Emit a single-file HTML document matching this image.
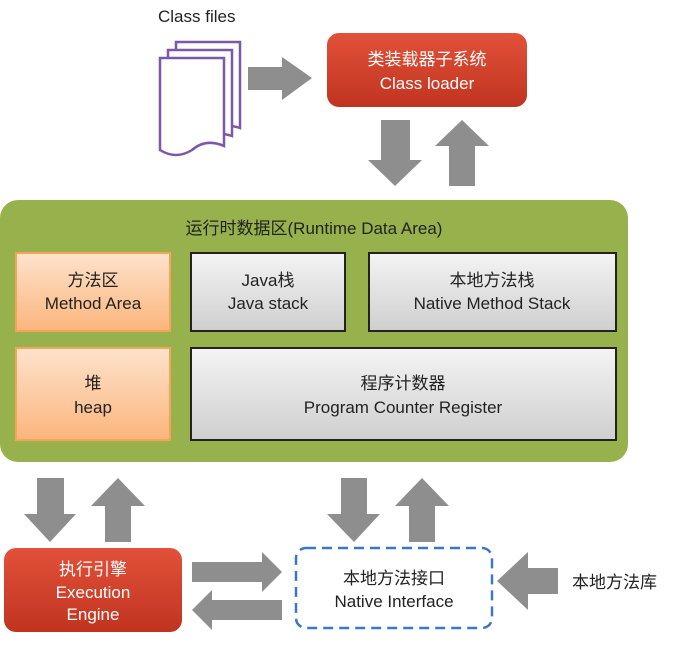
<!DOCTYPE html>
<html><head><meta charset="utf-8"><style>
html,body{margin:0;padding:0;background:#fff;}
svg text{font-family:"Liberation Sans","Noto Sans CJK SC",sans-serif;}
</style></head><body>
<svg width="696" height="651" viewBox="0 0 696 651" xmlns="http://www.w3.org/2000/svg">
<defs>
<linearGradient id="red" x1="0" y1="0" x2="0" y2="1"><stop offset="0" stop-color="#e2513a"/><stop offset="1" stop-color="#c0341f"/></linearGradient>
<linearGradient id="org" x1="0" y1="0" x2="0" y2="1"><stop offset="0" stop-color="#fde3cc"/><stop offset="1" stop-color="#fbb57c"/></linearGradient>
<linearGradient id="gry" x1="0" y1="0" x2="0" y2="1"><stop offset="0" stop-color="#f4f4f4"/><stop offset="1" stop-color="#cfcfcf"/></linearGradient>
</defs>
<text x="158" y="22" font-size="17" fill="#222">Class files</text>
<g fill="#fff" stroke="#7a5aa6" stroke-width="2.5">
<path d="M176 42 H240 V128 Q222 122 208 132 Q192 142 176 138 Z"/>
<path d="M168 50 H232 V136 Q214 130 200 140 Q184 150 168 146 Z"/>
<path d="M160 58 H224 V146 Q206 138 192 150 Q176 160 160 150 Z"/>
</g>
<polygon points="248,67 282,67 282,57 312,78 282,100 282,90 248,90" fill="#8e8e8e"/>
<rect x="327" y="33" width="200" height="74" rx="12" fill="url(#red)"/>
<text x="427" y="65" font-size="17" fill="#fff" text-anchor="middle">类装载器子系统</text>
<text x="427" y="89" font-size="17" fill="#fff" text-anchor="middle">Class loader</text>
<polygon points="381,120 410,120 410,160 422,160 395,186 368,160 381,160" fill="#8e8e8e"/>
<polygon points="449,186 475,186 475,146 489,146 462,120 435,146 449,146" fill="#8e8e8e"/>
<rect x="0" y="200" width="628" height="262" rx="18" fill="#97b24c"/>
<text x="314" y="234" font-size="17" fill="#222" text-anchor="middle">运行时数据区(Runtime Data Area)</text>
<rect x="16" y="253" width="154" height="78" fill="url(#org)" stroke="#f6a45a" stroke-width="2"/>
<text x="93" y="286" font-size="17" fill="#222" text-anchor="middle">方法区</text>
<text x="93" y="309" font-size="17" fill="#222" text-anchor="middle">Method Area</text>
<rect x="191" y="253" width="154" height="78" fill="url(#gry)" stroke="#222" stroke-width="2"/>
<text x="268" y="286" font-size="17" fill="#222" text-anchor="middle">Java栈</text>
<text x="268" y="309" font-size="17" fill="#222" text-anchor="middle">Java stack</text>
<rect x="369" y="253" width="247" height="78" fill="url(#gry)" stroke="#222" stroke-width="2"/>
<text x="492" y="286" font-size="17" fill="#222" text-anchor="middle">本地方法栈</text>
<text x="492" y="309" font-size="17" fill="#222" text-anchor="middle">Native Method Stack</text>
<rect x="16" y="348" width="154" height="92" fill="url(#org)" stroke="#f6a45a" stroke-width="2"/>
<text x="93" y="389" font-size="17" fill="#222" text-anchor="middle">堆</text>
<text x="93" y="413" font-size="17" fill="#222" text-anchor="middle">heap</text>
<rect x="191" y="348" width="425" height="92" fill="url(#gry)" stroke="#222" stroke-width="2"/>
<text x="403" y="389" font-size="17" fill="#222" text-anchor="middle">程序计数器</text>
<text x="403" y="413" font-size="17" fill="#222" text-anchor="middle">Program Counter Register</text>
<polygon points="37,478 64,478 64,514 76,514 50,542 24,514 37,514" fill="#8e8e8e"/>
<polygon points="105,542 131,542 131,506 145,506 118,478 91,506 105,506" fill="#8e8e8e"/>
<polygon points="341,478 367,478 367,514 380,514 354,542 327,514 341,514" fill="#8e8e8e"/>
<polygon points="409,542 435,542 435,506 449,506 422,478 395,506 409,506" fill="#8e8e8e"/>
<rect x="4" y="548" width="178" height="84" rx="12" fill="url(#red)"/>
<text x="93" y="575" font-size="17" fill="#fff" text-anchor="middle">执行引擎</text>
<text x="93" y="598" font-size="17" fill="#fff" text-anchor="middle">Execution</text>
<text x="93" y="620" font-size="17" fill="#fff" text-anchor="middle">Engine</text>
<polygon points="192,562 262,562 262,552 282,572 262,592 262,582 192,582" fill="#8e8e8e"/>
<polygon points="282,600 212,600 212,590 192,610 212,630 212,620 282,620" fill="#8e8e8e"/>
<rect x="296" y="548" width="196" height="80" rx="10" fill="#fff" stroke="#3b78c2" stroke-width="2.5" stroke-dasharray="10,6"/>
<text x="394" y="584" font-size="17" fill="#222" text-anchor="middle">本地方法接口</text>
<text x="394" y="607" font-size="17" fill="#222" text-anchor="middle">Native Interface</text>
<polygon points="558,568 528,568 528,552 497,581 528,610 528,594 558,594" fill="#8e8e8e"/>
<text x="572" y="588" font-size="17" fill="#222">本地方法库</text>
</svg>
</body></html>
